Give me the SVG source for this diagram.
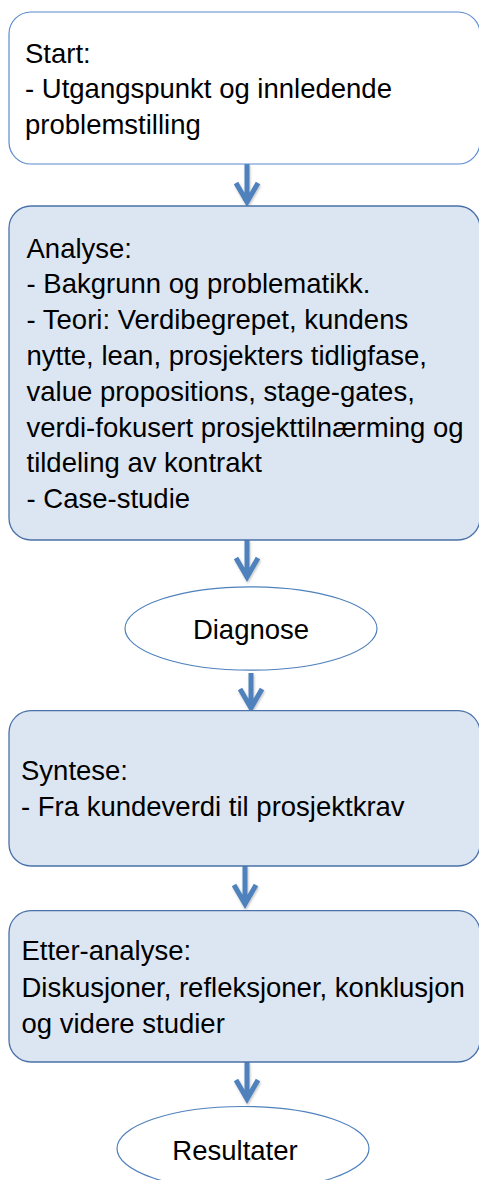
<svg xmlns="http://www.w3.org/2000/svg" width="479" height="1180" viewBox="0 0 479 1180">
  <style>
    .box { fill: #dce6f2; stroke: #4a72a8; stroke-width: 1.3; }
    .box.plain { fill: #ffffff; stroke: #5b8bd0; stroke-width: 1.2; }
    .oval { fill: #ffffff; stroke: #4f81bd; stroke-width: 1.2; }
    .label { font-family: "Liberation Sans", Arial, sans-serif; font-size: 27.5px; fill: #000000; }
    .mid { text-anchor: middle; }
    .flow { fill: none; stroke: #4f81bd; stroke-width: 5; stroke-linecap: butt; stroke-linejoin: miter; }
  </style>
  <defs>
    <filter id="soft" x="-50%" y="-20%" width="200%" height="140%">
      <feDropShadow dx="0.8" dy="1.5" stdDeviation="1.2" flood-color="#000000" flood-opacity="0.25"/>
    </filter>
  </defs>

  <!-- connectors: thick shaft with an open chevron head -->
  <g id="connectors" filter="url(#soft)">
    <path class="flow" d="M247 164 V202 M236 183 L247 202 L258 183"/>
    <path class="flow" d="M247 540 V577 M236 558 L247 577 L258 558"/>
    <path class="flow" d="M251 673 V708 M240 689 L251 708 L262 689"/>
    <path class="flow" d="M245 866 V904 M234 885 L245 904 L256 885"/>
    <path class="flow" d="M247 1062 V1099 M236 1080 L247 1099 L258 1080"/>
  </g>

  <g id="start">
    <rect class="box plain" x="9" y="12" width="471" height="152" rx="22" ry="22"/>
    <text class="label" x="25" y="62.5">Start:</text>
    <text class="label" x="25" y="98">- Utgangspunkt og innledende</text>
    <text class="label" x="25" y="133.5">problemstilling</text>
  </g>

  <g id="analyse">
    <rect class="box" x="9" y="206" width="471" height="334" rx="22" ry="22"/>
    <text class="label" x="26.5" y="257.7">Analyse:</text>
    <text class="label" x="26.5" y="293.4">- Bakgrunn og problematikk.</text>
    <text class="label" x="26.5" y="329.2">- Teori: Verdibegrepet, kundens</text>
    <text class="label" x="26.5" y="365">nytte, lean, prosjekters tidligfase,</text>
    <text class="label" x="26.5" y="400.8">value propositions, stage-gates,</text>
    <text class="label" x="26.5" y="436.6">verdi-fokusert prosjekttilnærming og</text>
    <text class="label" x="26.5" y="472.4">tildeling av kontrakt</text>
    <text class="label" x="26.5" y="508.2">- Case-studie</text>
  </g>

  <g id="diagnose">
    <ellipse class="oval" cx="251" cy="628.5" rx="126" ry="41.7"/>
    <text class="label mid" x="251" y="639">Diagnose</text>
  </g>

  <g id="syntese">
    <rect class="box" x="9" y="710.7" width="471" height="155.3" rx="22" ry="22"/>
    <text class="label" x="21" y="780">Syntese:</text>
    <text class="label" x="21" y="816">- Fra kundeverdi til prosjektkrav</text>
  </g>

  <g id="etter-analyse">
    <rect class="box" x="9" y="910.7" width="471" height="151.3" rx="22" ry="22"/>
    <text class="label" x="21.5" y="960">Etter-analyse:</text>
    <text class="label" x="21.5" y="996.7">Diskusjoner, refleksjoner, konklusjon</text>
    <text class="label" x="21.5" y="1032.7">og videre studier</text>
  </g>

  <g id="resultater">
    <ellipse class="oval" cx="243" cy="1148.5" rx="126" ry="42"/>
    <text class="label mid" x="235" y="1160">Resultater</text>
  </g>
</svg>
